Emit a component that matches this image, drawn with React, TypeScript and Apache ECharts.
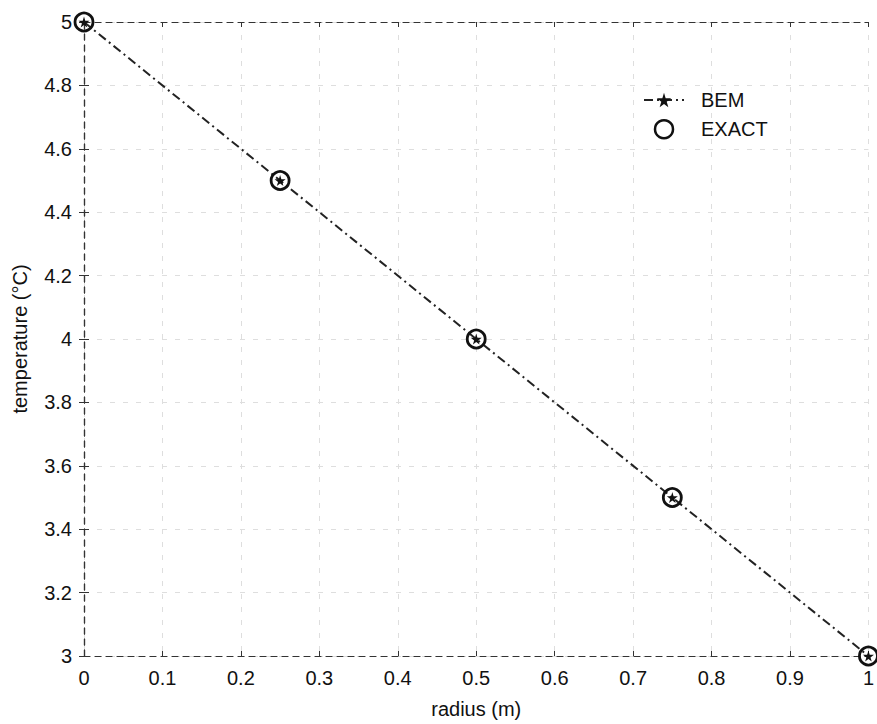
import React, { useEffect, useRef } from "react";
import * as echarts from "echarts";

const radius = [0, 0.25, 0.5, 0.75, 1];
const bemTemp = [5, 4.5, 4, 3.5, 3];
const exactTemp = [5, 4.5, 4, 3.5, 3];
const seriesNames = ["BEM", "EXACT"];
const xAxisTitle = "radius (m)";
const yAxisTitle = "temperature (°C)";

const STAR = "path://M50,0 L61,35 L98,35 L68,57 L79,91 L50,70 L21,91 L32,57 L2,35 L39,35 Z";
const FONT = "'Liberation Sans', Arial, sans-serif";

export default function App() {
  const ref = useRef<HTMLDivElement>(null);
  useEffect(() => {
    if (!ref.current) return;
    const chart = echarts.init(ref.current, null, { renderer: "svg" });
    const axisLine = { show: true, lineStyle: { color: "#333", width: 1.2, type: [6, 5] as any } };
    const splitLine = { show: true, lineStyle: { color: "#dedede", width: 1, type: [5, 8] as any } };
    const tick = { show: true, inside: true, length: 5, lineStyle: { color: "#333" } };
    chart.setOption({
      animation: false,
      backgroundColor: "#fff",
      textStyle: { fontFamily: FONT },
      grid: { left: 84, right: 6, top: 22, bottom: 66, containLabel: false },
      legend: {
        orient: "vertical",
        left: 638,
        top: 85,
        itemWidth: 40,
        itemHeight: 18,
        itemGap: 9,
        data: [
          { name: seriesNames[0] },
          {
            name: seriesNames[1],
            itemStyle: { color: "rgba(0,0,0,0)", borderColor: "#111", borderWidth: 2.5 },
          },
        ],
        textStyle: { fontSize: 20, color: "#111", fontFamily: FONT, padding: [0, 0, 0, 12] },
      },
      xAxis: [
        {
          type: "value",
          min: 0,
          max: 1,
          interval: 0.1,
          position: "bottom",
          name: xAxisTitle,
          nameLocation: "middle",
          nameGap: 43,
          nameTextStyle: { fontSize: 20, color: "#111", fontFamily: FONT },
          axisLine,
          axisTick: tick,
          splitLine,
          axisLabel: { fontSize: 20, color: "#111", margin: 12, fontFamily: FONT },
        },
        {
          type: "value",
          min: 0,
          max: 1,
          interval: 0.1,
          position: "top",
          axisLine,
          axisTick: tick,
          splitLine: { show: false },
          axisLabel: { show: false },
        },
      ],
      yAxis: [
        {
          type: "value",
          min: 3,
          max: 5,
          interval: 0.2,
          position: "left",
          name: yAxisTitle,
          nameLocation: "middle",
          nameGap: 54,
          nameTextStyle: { fontSize: 20, color: "#111", fontFamily: FONT },
          axisLine,
          axisTick: tick,
          splitLine,
          axisLabel: { fontSize: 20, color: "#111", margin: 12, fontFamily: FONT },
        },
        {
          type: "value",
          min: 3,
          max: 5,
          interval: 0.2,
          position: "right",
          axisLine,
          axisTick: tick,
          splitLine: { show: false },
          axisLabel: { show: false },
        },
      ],
      series: [
        {
          name: seriesNames[0],
          type: "line",
          data: radius.map((r, i) => [r, bemTemp[i]]),
          symbol: STAR,
          symbolSize: 11,
          showAllSymbol: true,
          itemStyle: { color: "#111", opacity: 1 },
          lineStyle: { color: "#222", width: 2, type: [9, 4, 2, 4] as any },
          z: 3,
        },
        {
          name: seriesNames[1],
          type: "scatter",
          data: radius.map((r, i) => [r, exactTemp[i]]),
          symbol: "circle",
          symbolSize: 18,
          itemStyle: { color: "rgba(0,0,0,0)", borderColor: "#111", borderWidth: 2.8, opacity: 1 },
          z: 4,
        },
      ],
    });
    return () => chart.dispose();
  }, []);
  return (
    <div
      ref={ref}
      style={{ position: "absolute", left: 0, top: 0, width: 877, height: 724, background: "#fff" }}
    />
  );
}
